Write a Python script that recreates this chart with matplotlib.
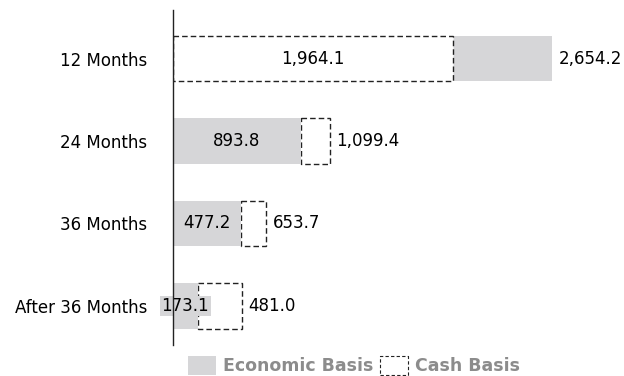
import matplotlib
matplotlib.use("Agg")
import matplotlib.pyplot as plt
from matplotlib.patches import Patch

categories = ["12 Months", "24 Months", "36 Months", "After 36 Months"]
economic = [2654.2, 893.8, 477.2, 173.1]
cash = [1964.1, 1099.4, 653.7, 481.0]

GRAY = "#d6d6d8"
DASH = (0, (4, 2.2))
W, H = 624, 376
plt.rcParams["font.family"] = "DejaVu Sans"
fig = plt.figure(figsize=(W / 100, H / 100), dpi=100)
ax = fig.add_axes([173 / W, (H - 345) / H, (600 - 173) / W, 335 / H])

fs = 12
bh = 0.55
ypos = list(range(len(categories)))


def outside_label(x, y, val):
    ax.annotate(f"{val:,.1f}", xy=(x, y), xytext=(4.5, 0), textcoords="offset points",
                ha="left", va="center", fontsize=fs, zorder=4)


for i, (e, c) in enumerate(zip(economic, cash)):
    if c < e:
        # cash box inside the economic bar, grey remainder to its right
        ax.barh(i, e - c, left=c, height=bh, color=GRAY, zorder=2)
        ax.barh(i, c, height=bh, facecolor="white", edgecolor="#222222",
                linestyle=DASH, linewidth=1.0, zorder=3)
        ax.text(c / 2, i, f"{c:,.1f}", ha="center", va="center", fontsize=fs, zorder=4)
        outside_label(e, i, e)
    else:
        # grey economic bar, dashed cash extension beyond it
        ax.barh(i, e, height=bh, color=GRAY, zorder=3)
        ax.barh(i, c - e, left=e, height=bh, facecolor="white", edgecolor="#222222",
                linestyle=DASH, linewidth=1.0, zorder=2)
        ax.text(e / 2, i, f"{e:,.1f}", ha="center", va="center", fontsize=fs, zorder=4,
                bbox=dict(facecolor=GRAY, edgecolor="none", pad=1.0))
        outside_label(c, i, c)

ax.set_xlim(0, 427 / 0.1428)
ax.set_ylim(3.473, -0.588)
ax.set_yticks(ypos)
ax.set_yticklabels(categories, fontsize=fs)
ax.tick_params(axis="y", length=0, pad=18.5)
ax.set_xticks([])
for s in ["top", "right", "bottom"]:
    ax.spines[s].set_visible(False)
ax.spines["left"].set_linewidth(1.0)
ax.spines["left"].set_color("#222222")
ax.spines["left"].set_zorder(5)

handles = [Patch(facecolor=GRAY, edgecolor="none"),
           Patch(facecolor="white", edgecolor="#222222", linestyle=(0, (3, 2)), linewidth=0.8)]
leg = fig.legend(handles, ["Economic Basis", "Cash Basis"], loc="center",
                 bbox_to_anchor=(354 / W, 10.5 / H), ncol=2, frameon=False,
                 prop=dict(size=12.5, weight="bold"), handlelength=1.6, handleheight=1.3,
                 handletextpad=0.4, columnspacing=0.4, borderpad=0.1)
for t in leg.get_texts():
    t.set_color("#8c8c8c")

fig.savefig("out.png", dpi=100)
